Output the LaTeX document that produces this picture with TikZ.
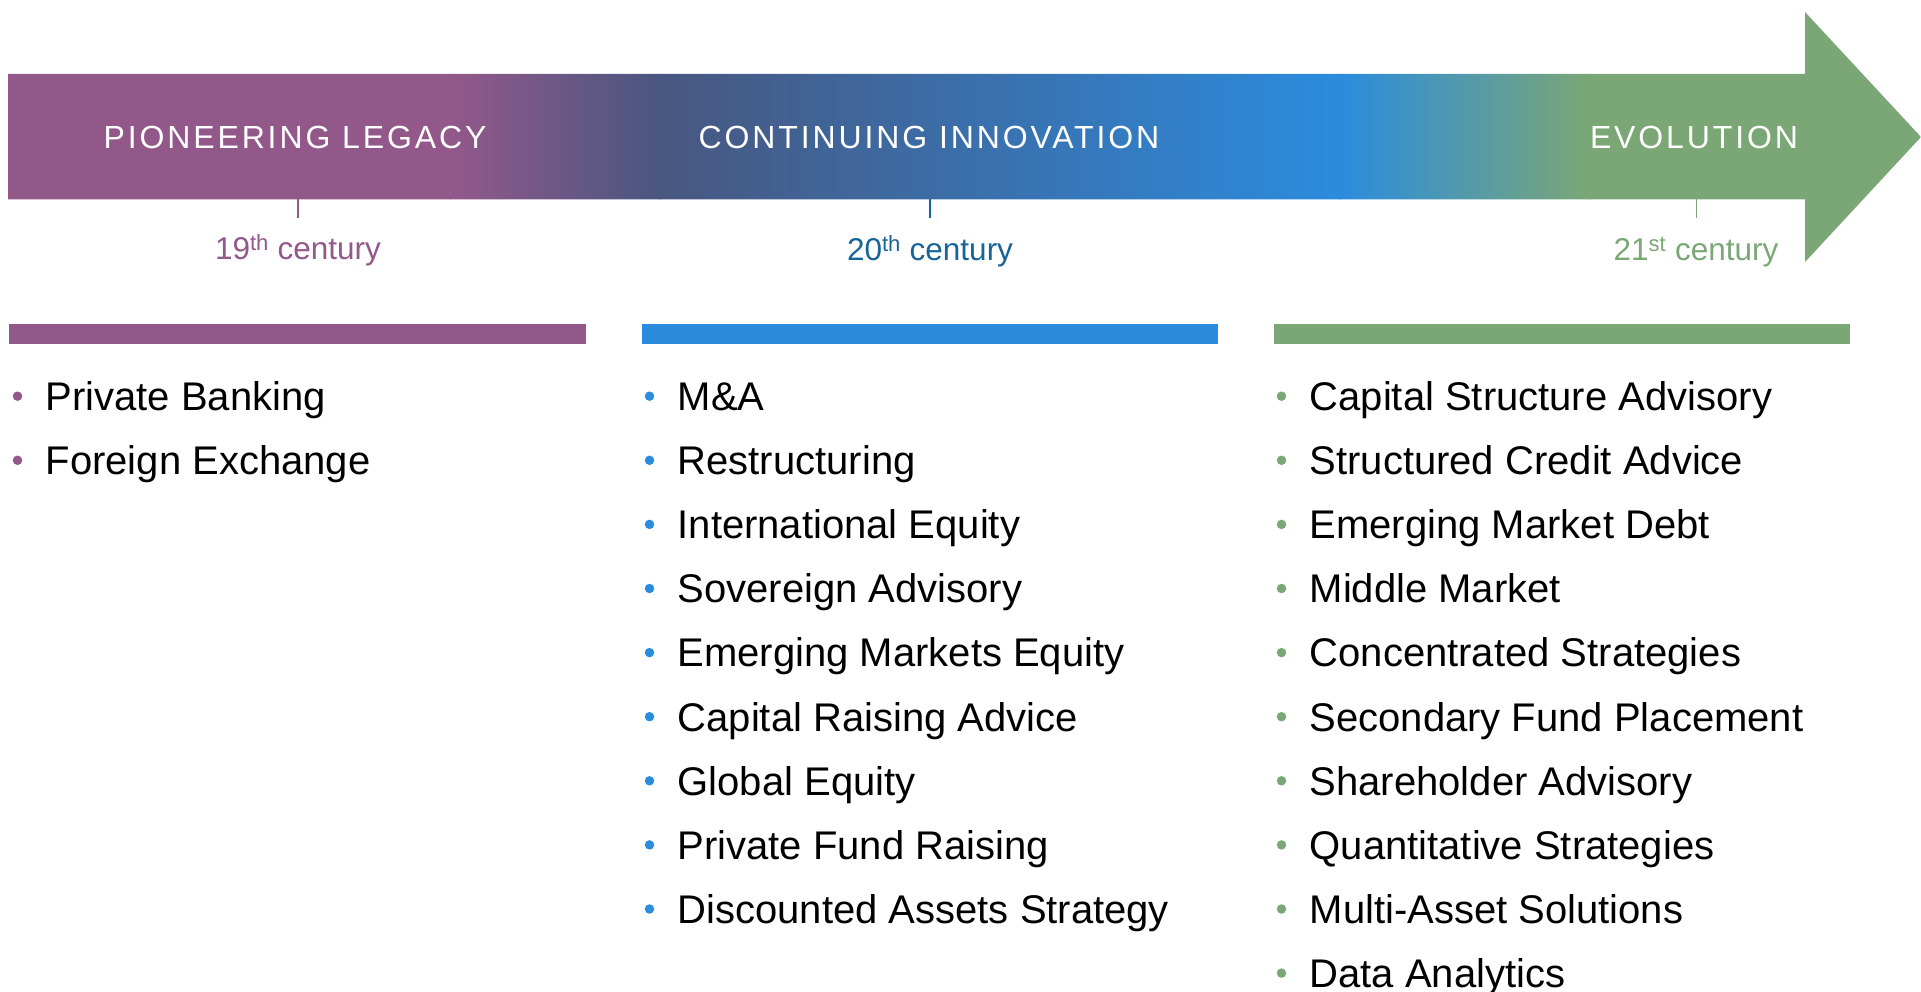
\documentclass[tikz,border=0pt]{standalone}
\usepackage{fontspec}
\setmainfont{Liberation Sans}
\newfontfamily\headfont[LetterSpace=9]{Liberation Sans}
\definecolor{cpurple}{RGB}{147,88,138}
\definecolor{cslate}{RGB}{72,87,128}
\definecolor{cblue}{RGB}{43,140,222}
\definecolor{cgreen}{RGB}{123,167,118}
\definecolor{cdblue}{RGB}{22,100,152}
\begin{document}
\begin{tikzpicture}[x=1pt,y=-1pt,
  head/.style={text=white,font=\headfont\fontsize{32}{38}\selectfont,anchor=center,inner sep=0pt},
  cent/.style={font=\fontsize{31.5}{37}\selectfont,anchor=base,inner sep=0pt,text=#1},
  ticker/.style={line width=1.5pt,draw=#1},
  bar/.style={fill=#1,draw=none},
  item/.style={font=\fontsize{40}{48}\selectfont,anchor=base west,inner sep=0pt},
  dot/.style={circle,fill=#1,draw=none,inner sep=0pt,minimum size=9.5pt}
]
\useasboundingbox (0,0) rectangle (1921,992);
% gradient arrow
\begin{scope}
\clip (8,74) -- (1805,74) -- (1805,12) -- (1921,137) -- (1805,262) -- (1805,199.5) -- (8,199.5) -- cycle;
\fill[cpurple] (0,0) rectangle (451,270);
\shade[left color=cpurple,right color=cslate] (450,0) rectangle (661,270);
\shade[left color=cslate,right color=cblue] (660,0) rectangle (1341,270);
\shade[left color=cblue,right color=cgreen] (1340,0) rectangle (1591,270);
\fill[cgreen] (1590,0) rectangle (1921,270);
\end{scope}
% headings
\node[head] (h1) at (295,137.5) {PIONEERING LEGACY};
\node[head] (h2) at (929,137.5) {CONTINUING INNOVATION};
\node[head] (h3) at (1694,137.5) {EVOLUTION};
% ticks and century labels
\coordinate (t1a) at (298,199.5); \coordinate (t1b) at (298,218);
\coordinate (t2a) at (930,199.5); \coordinate (t2b) at (930,218);
\coordinate (t3a) at (1696.5,199.5); \coordinate (t3b) at (1696.5,218);
\draw[ticker=cpurple] (t1a) -- (t1b);
\draw[ticker=cdblue] (t2a) -- (t2b);
\draw[ticker=cgreen] (t3a) -- (t3b);
\node[cent=cpurple] (c1) at (298,259.5) {19\textsuperscript{th} century};
\node[cent=cdblue] (c2) at (930,261) {20\textsuperscript{th} century};
\node[cent=cgreen] (c3) at (1696,261) {21\textsuperscript{st} century};
% bars
\fill[bar=cpurple] (9,324) rectangle (586,344);
\fill[bar=cblue] (642,324) rectangle (1218,344);
\fill[bar=cgreen] (1274,324) rectangle (1850,344);
% lists
\foreach \t [count=\i from 0] in {Private Banking, Foreign Exchange} {
  \node[dot=cpurple] (pd\i) at (17.5, 410.5+64.1*\i-14.3) {};
  \node[item] (p\i) at (45.5, 410.5+64.1*\i) {\t};
}
\foreach \t [count=\i from 0] in {M\&A, Restructuring, International Equity, Sovereign Advisory, Emerging Markets Equity, Capital Raising Advice, Global Equity, Private Fund Raising, Discounted Assets Strategy} {
  \node[dot=cblue] (bd\i) at (649.5, 410.5+64.1*\i-14.3) {};
  \node[item] (b\i) at (677.5, 410.5+64.1*\i) {\t};
}
\foreach \t [count=\i from 0] in {Capital Structure Advisory, Structured Credit Advice, Emerging Market Debt, Middle Market, Concentrated Strategies, Secondary Fund Placement, Shareholder Advisory, Quantitative Strategies, Multi-Asset Solutions, Data Analytics} {
  \node[dot=cgreen] (gd\i) at (1281.5, 410.5+64.1*\i-14.3) {};
  \node[item] (g\i) at (1309.5, 410.5+64.1*\i) {\t};
}
\end{tikzpicture}
\end{document}
